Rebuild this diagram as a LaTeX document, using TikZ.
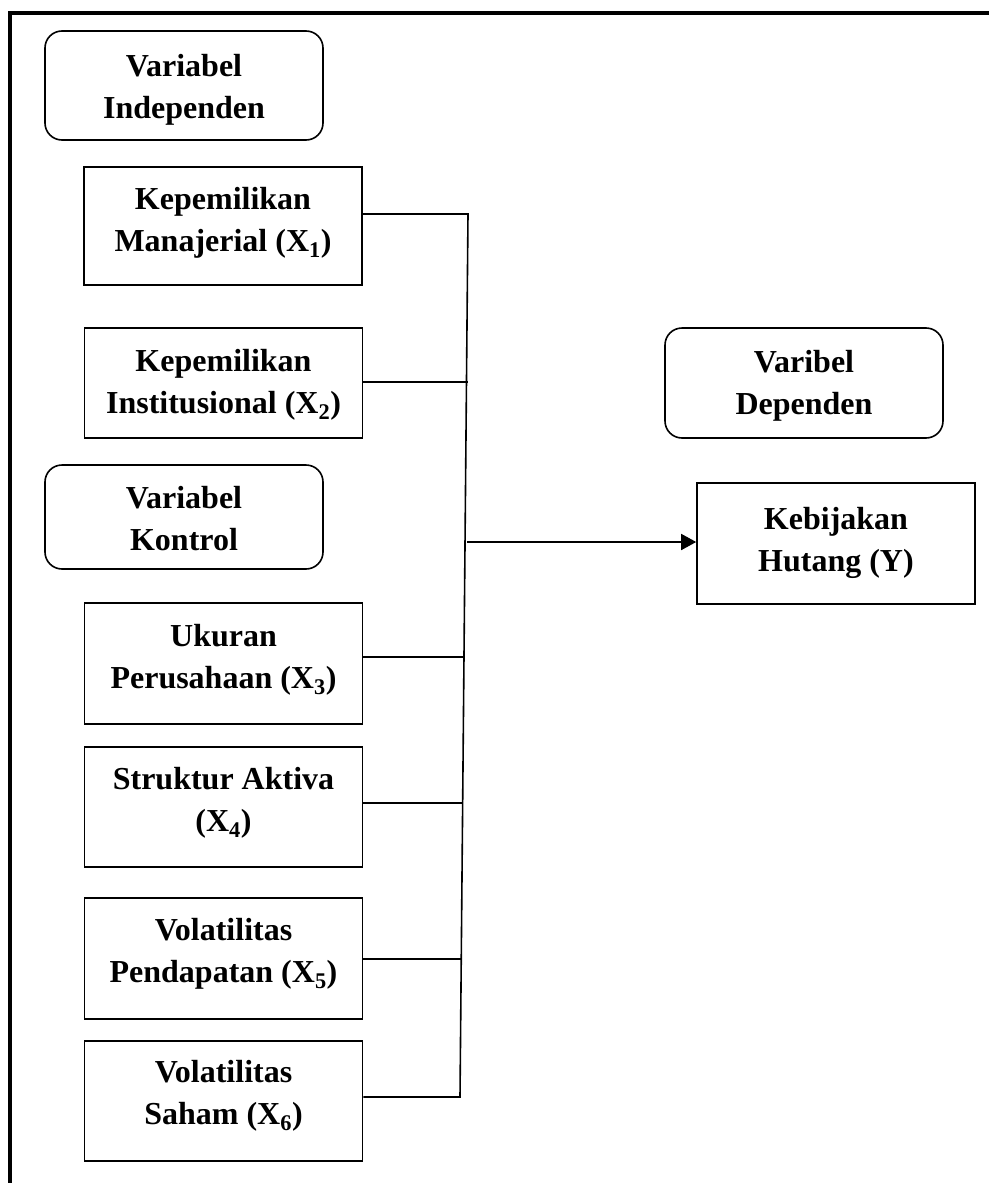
\documentclass[tikz,border=0pt]{standalone}
\usepackage{fontspec}
\setmainfont{Liberation Serif}
\usetikzlibrary{arrows.meta,calc}
\begin{document}
\begin{tikzpicture}[x=1pt,y=-1pt,
  box/.style={draw, line width=1.6pt, minimum width=278pt, inner sep=0pt},
  rbox/.style={box, rounded corners=17pt},
  lbl/.style={font=\bfseries\fontsize{32}{42}\selectfont, align=center, inner sep=0pt},
  conn/.style={line width=1.6pt},
  frame/.style={line width=4pt}]
\useasboundingbox (0,0) rectangle (988,1183);
% frame
\coordinate (fb) at (10,1185);
\coordinate (ft) at (10,13);
\coordinate (fr) at (990,13);
\draw[frame] (fb) -- (ft) -- (fr);
% boxes
\node[rbox, minimum height=109pt] (vi) at (184,85.5) {};
\node[lbl] (vit) at (184,89.5) {Variabel\\Independen};
\node[box, minimum height=118pt] (m1) at (223,226) {};
\node[lbl] (m1t) at (223,223) {Kepemilikan\\Manajerial (X\textsubscript{1})};
\node[box, minimum height=110pt] (m2) at (223.5,383) {};
\node[lbl] (m2t) at (223.5,385) {Kepemilikan\\Institusional (X\textsubscript{2})};
\node[rbox, minimum height=104pt] (vk) at (184,517) {};
\node[lbl] (vkt) at (184,519) {Variabel\\Kontrol};
\node[rbox, minimum height=110pt] (vd) at (804,383) {};
\node[lbl] (vdt) at (804,386) {Varibel\\Dependen};
\node[box, minimum height=121pt] (yb) at (836,543.5) {};
\node[lbl] (ybt) at (836,543) {Kebijakan\\Hutang (Y)};
\node[box, minimum height=121pt] (x3) at (223.5,663.5) {};
\node[lbl] (x3t) at (223.5,659.5) {Ukuran\\Perusahaan (X\textsubscript{3})};
\node[box, minimum height=120pt] (x4) at (223.5,807) {};
\node[lbl] (x4t) at (223.5,803) {Struktur Aktiva\\(X\textsubscript{4})};
\node[box, minimum height=121pt] (x5) at (223.5,958.5) {};
\node[lbl] (x5t) at (223.5,953.5) {Volatilitas\\Pendapatan (X\textsubscript{5})};
\node[box, minimum height=120pt] (x6) at (223.5,1101) {};
\node[lbl] (x6t) at (223.5,1096) {Volatilitas\\Saham (X\textsubscript{6})};
% bus
\coordinate (bt) at (468,214);
\coordinate (bb) at (460,1097);
\coordinate (s1) at ([yshift=12pt]m1.east);
\coordinate (s2) at ([yshift=1pt]m2.east);
\coordinate (s3) at ([yshift=6.5pt]x3.east);
\coordinate (s4) at ([yshift=4pt]x4.east);
\coordinate (s5) at ([yshift=-0.5pt]x5.east);
\coordinate (s6) at ([yshift=4pt]x6.east);
\coordinate (sy) at ([yshift=1.5pt]yb.west);
\coordinate (p2) at ($(bt)!(s2)!(bb)$);
\coordinate (p3) at ($(bt)!(s3)!(bb)$);
\coordinate (p4) at ($(bt)!(s4)!(bb)$);
\coordinate (p5) at ($(bt)!(s5)!(bb)$);
\coordinate (py) at ($(bt)!(sy)!(bb)$);
\draw[conn] (s1) -- (bt) -- (bb) -- (s6);
\draw[conn] (s2) -- ([xshift=1.5pt]p2 |- s2);
\draw[conn] (s3) -- (p3 |- s3);
\draw[conn] (s4) -- (p4 |- s4);
\draw[conn] (s5) -- (p5 |- s5);
\draw[conn, -{Triangle[length=15pt,width=16pt]}] ([xshift=2pt]py |- sy) -- (sy);
\end{tikzpicture}
\end{document}
